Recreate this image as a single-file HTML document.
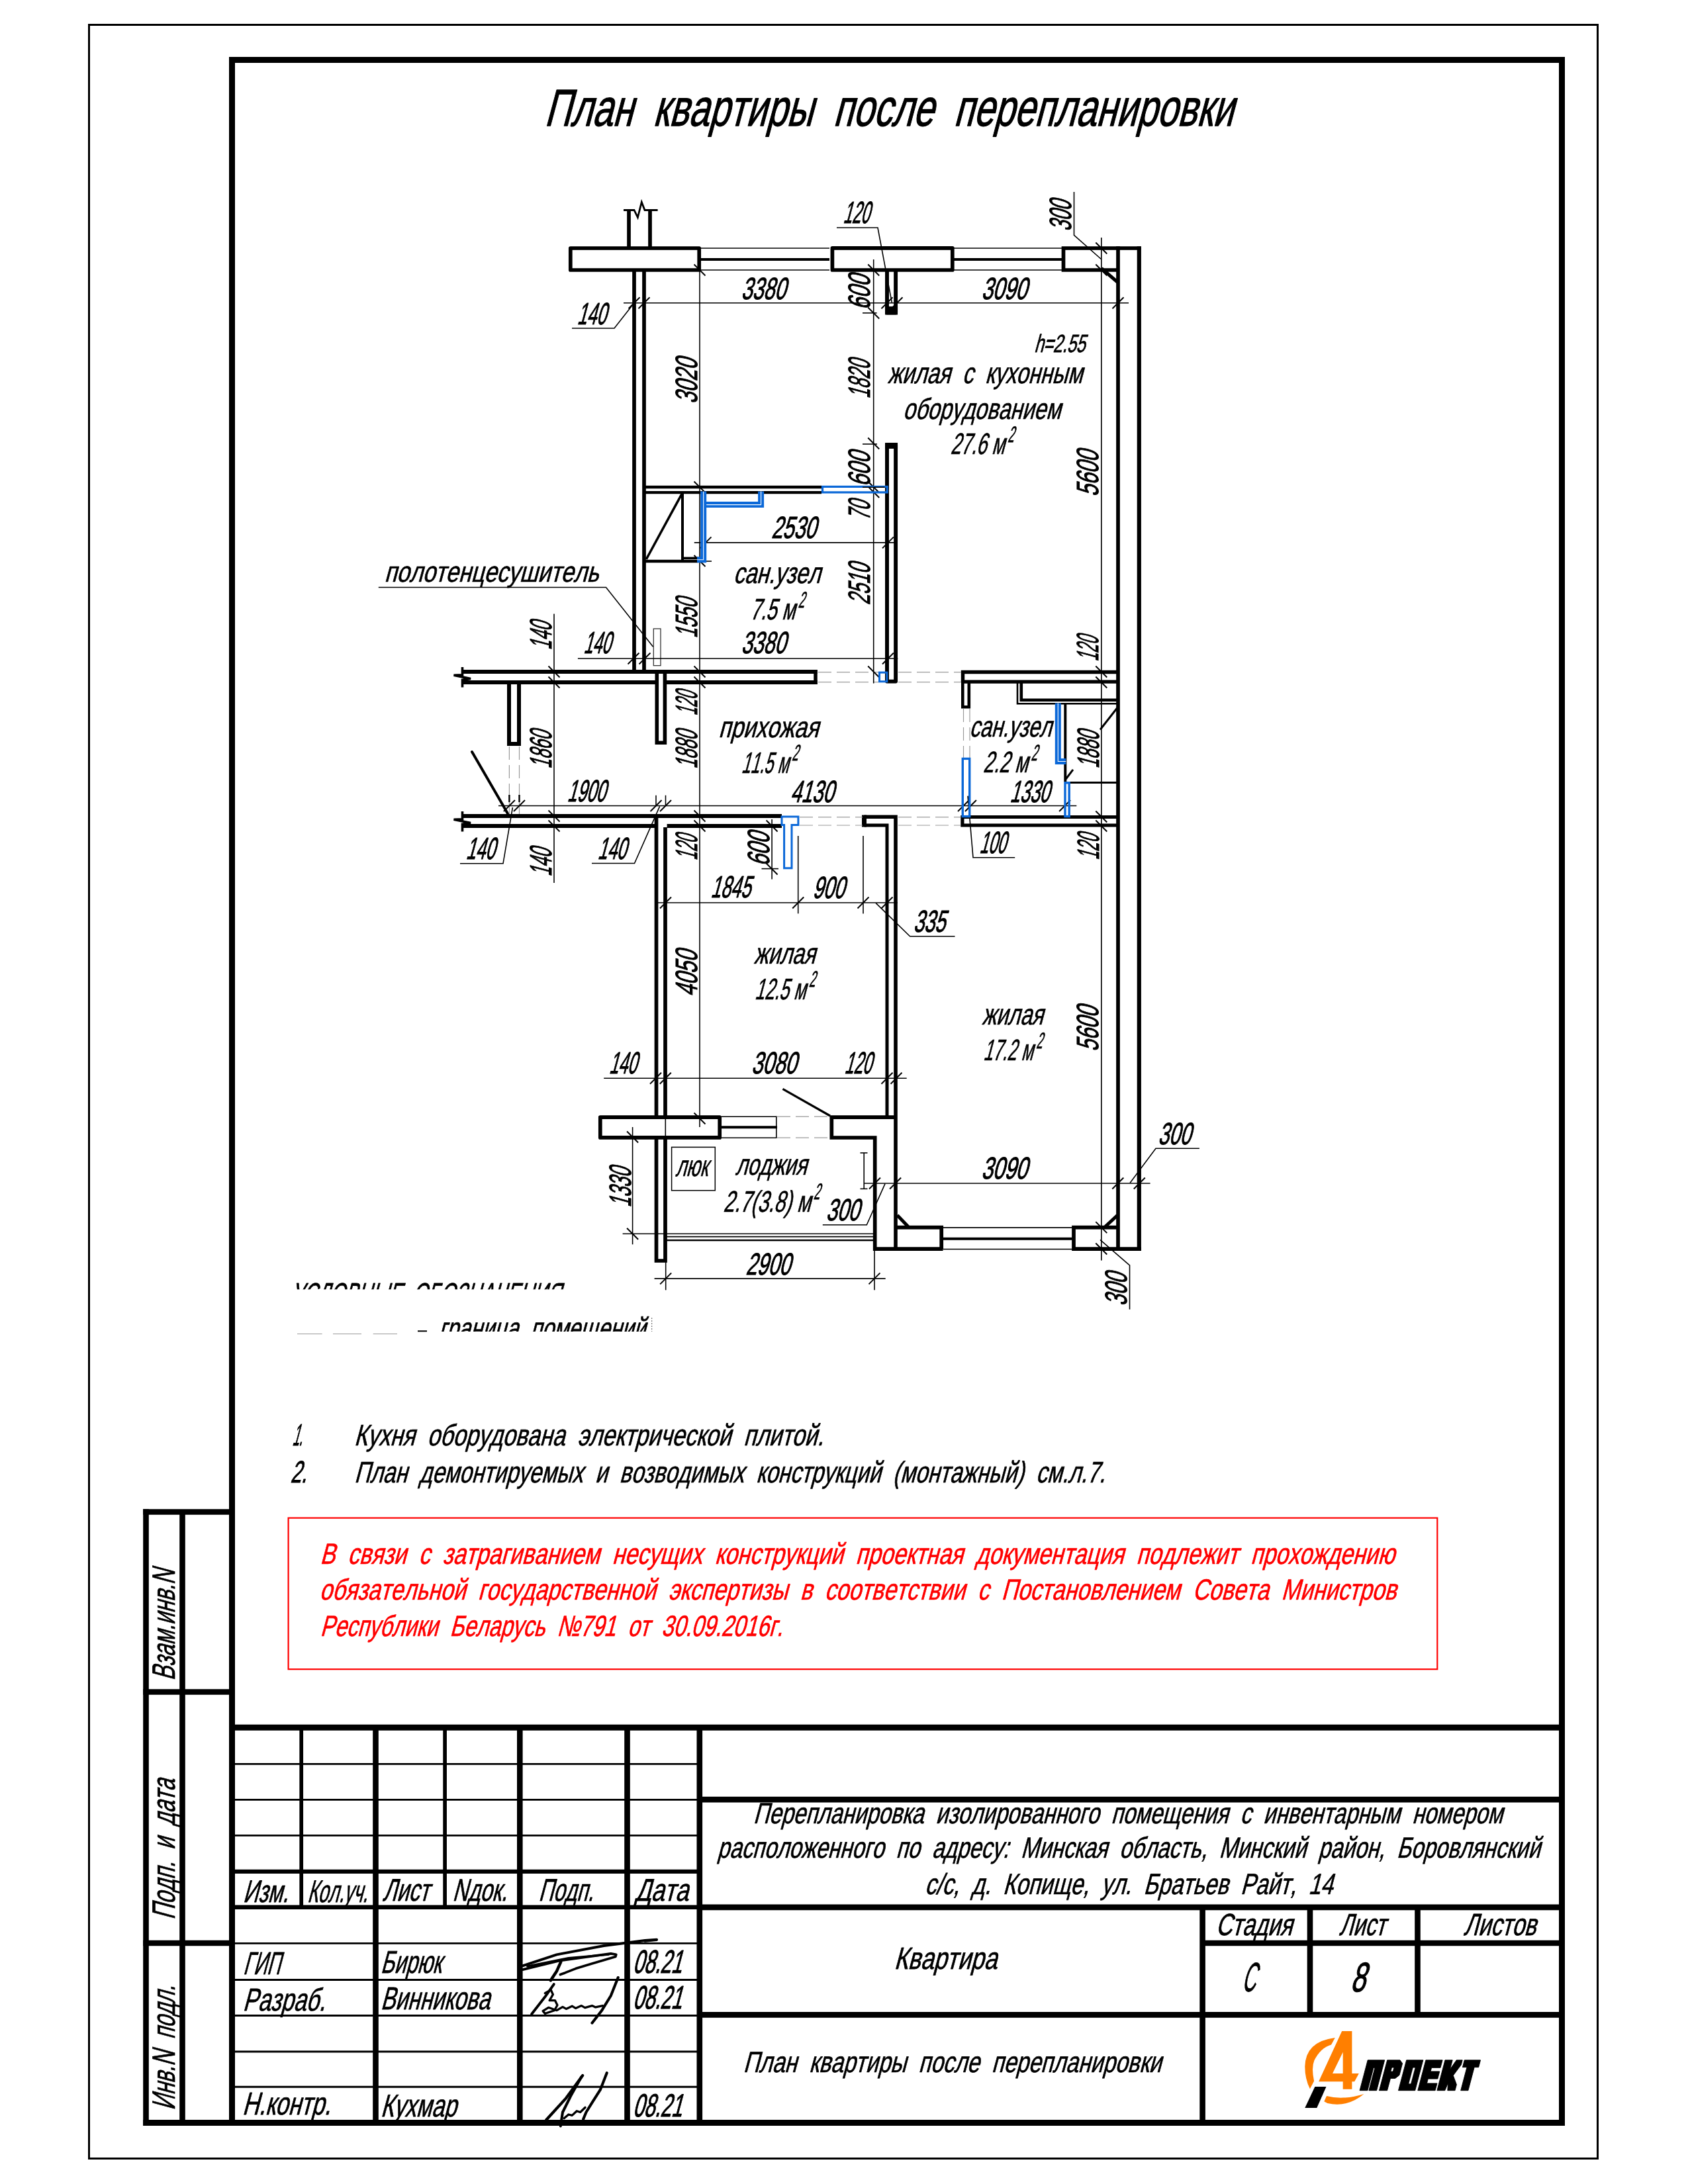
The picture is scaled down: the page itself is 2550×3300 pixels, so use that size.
<!DOCTYPE html>
<html lang="ru"><head><meta charset="utf-8"><title>План квартиры после перепланировки</title>
<style>
html,body{margin:0;padding:0;background:#fff;}
body{width:2550px;height:3300px;overflow:hidden;}
svg{display:block;}
svg text{font-family:"Liberation Sans",sans-serif;font-style:normal;font-kerning:none;font-variant-ligatures:none;}
</style></head><body>
<svg width="2550" height="3300" viewBox="0 0 2550 3300" shape-rendering="geometricPrecision">
<defs><filter id="nf" filterUnits="userSpaceOnUse" x="0" y="0" width="2550" height="3300" color-interpolation-filters="sRGB"><feOffset dx="0" dy="0"/></filter></defs>
<rect x="0" y="0" width="2550" height="3300" fill="#fff"/>
<g filter="url(#nf)">
<g id="frame">
<rect x="134.5" y="37.5" width="2279" height="3224" fill="none" stroke="#000" stroke-width="3"/>
<rect x="350.5" y="90.5" width="2009" height="3117" fill="none" stroke="#000" stroke-width="9"/>
<line x1="216.2" y1="2284.5" x2="350" y2="2284.5" stroke="#000" stroke-width="8.6" stroke-linecap="butt"/>
<line x1="220.5" y1="2280.2" x2="220.5" y2="3211.8" stroke="#000" stroke-width="8.6" stroke-linecap="butt"/>
<line x1="275.5" y1="2284" x2="275.5" y2="3207" stroke="#000" stroke-width="8.6" stroke-linecap="butt"/>
<line x1="216.2" y1="2556.5" x2="350" y2="2556.5" stroke="#000" stroke-width="8.6" stroke-linecap="butt"/>
<line x1="216.2" y1="2936" x2="350" y2="2936" stroke="#000" stroke-width="8.6" stroke-linecap="butt"/>
<line x1="216.2" y1="3207.5" x2="350" y2="3207.5" stroke="#000" stroke-width="9" stroke-linecap="butt"/>
</g>
<g id="plan" stroke-linejoin="miter">
<g stroke-linejoin="round">
<rect x="861.8" y="375" width="194.4" height="33" fill="none" stroke="#000" stroke-width="5.7"/>
</g>
<line x1="950" y1="316" x2="950" y2="373" stroke="#000" stroke-width="5.7" stroke-linecap="butt"/>
<line x1="982" y1="316" x2="982" y2="373" stroke="#000" stroke-width="5.7" stroke-linecap="butt"/>
<path d="M942 317.5 L958 317.5 L963.4 328.5 L969.3 305.4 L974 317.5 L993.6 317.5" fill="none" stroke="#000" stroke-width="2.8" stroke-linejoin="miter" stroke-linecap="butt"/>
<line x1="1059" y1="375" x2="1253" y2="375" stroke="#000" stroke-width="1.6" stroke-linecap="butt"/>
<line x1="1059" y1="408" x2="1253" y2="408" stroke="#000" stroke-width="1.6" stroke-linecap="butt"/>
<line x1="1059" y1="392" x2="1253" y2="392" stroke="#000" stroke-width="4" stroke-linecap="butt"/>
<g stroke-linejoin="round">
<rect x="1257.4" y="374.8" width="181.4" height="33.2" fill="none" stroke="#000" stroke-width="5.7"/>
</g>
<line x1="1441" y1="375" x2="1604" y2="375" stroke="#000" stroke-width="1.6" stroke-linecap="butt"/>
<line x1="1441" y1="408" x2="1604" y2="408" stroke="#000" stroke-width="1.6" stroke-linecap="butt"/>
<line x1="1441" y1="392" x2="1604" y2="392" stroke="#000" stroke-width="4" stroke-linecap="butt"/>
<path d="M1689 408 L1606.5 408 L1606.5 375 L1723.6 375" fill="none" stroke="#000" stroke-width="5.7" stroke-linejoin="miter" stroke-linecap="butt"/>
<line x1="1689" y1="372.2" x2="1689" y2="1890" stroke="#000" stroke-width="5.7" stroke-linecap="butt"/>
<line x1="1720.8" y1="372.2" x2="1720.8" y2="1890" stroke="#000" stroke-width="6.2" stroke-linecap="butt"/>
<line x1="1664" y1="405.5" x2="1689" y2="427" stroke="#000" stroke-width="5" stroke-linecap="butt"/>
<line x1="1688" y1="1836.3" x2="1669.5" y2="1853.5" stroke="#000" stroke-width="5" stroke-linecap="butt"/>
<line x1="958" y1="410" x2="958" y2="1013" stroke="#000" stroke-width="5.7" stroke-linecap="butt"/>
<line x1="973" y1="410" x2="973" y2="1013" stroke="#000" stroke-width="5.7" stroke-linecap="butt"/>
<path d="M1340 410 L1340 472.6 L1353.1 472.6 L1353.1 410" fill="none" stroke="#000" stroke-width="5.9" stroke-linejoin="round" stroke-linecap="butt"/>
<rect x="1340" y="466" width="13.1" height="6.6" fill="#000" stroke="#000" stroke-width="5.9"/>
<path d="M1340 1029.6 L1340 672 L1353.1 672 L1353.1 1029.6 L1340 1029.6 Z" fill="none" stroke="#000" stroke-width="5.9" stroke-linejoin="round" stroke-linecap="butt"/>
<rect x="1340" y="672" width="13.1" height="3" fill="#000" stroke="#000" stroke-width="5.9"/>
<line x1="975" y1="736" x2="1241" y2="736" stroke="#000" stroke-width="4.3" stroke-linecap="butt"/>
<line x1="975" y1="744.2" x2="1241" y2="744.2" stroke="#000" stroke-width="4.3" stroke-linecap="butt"/>
<line x1="976.3" y1="845" x2="1030" y2="746.3" stroke="#000" stroke-width="3.6" stroke-linecap="butt"/>
<line x1="1031" y1="746" x2="1031" y2="848" stroke="#000" stroke-width="4" stroke-linecap="butt"/>
<line x1="973" y1="848" x2="1055" y2="848" stroke="#000" stroke-width="4.3" stroke-linecap="butt"/>
<line x1="1031" y1="843.3" x2="1055" y2="843.3" stroke="#000" stroke-width="3.5" stroke-linecap="butt"/>
<line x1="698.5" y1="1015" x2="1234.7" y2="1015" stroke="#000" stroke-width="6" stroke-linecap="butt"/>
<line x1="698.5" y1="1031" x2="990" y2="1031" stroke="#000" stroke-width="6" stroke-linecap="butt"/>
<line x1="1006.8" y1="1031" x2="1234.7" y2="1031" stroke="#000" stroke-width="6" stroke-linecap="butt"/>
<line x1="1232" y1="1012" x2="1232" y2="1034" stroke="#000" stroke-width="5.5" stroke-linecap="butt"/>
<path d="M698.5 1008 L698.5 1019.8 L685.5 1020.2 L711 1025.5 L698.5 1027.2 L698.5 1038.5" fill="none" stroke="#000" stroke-width="3.6" stroke-linejoin="miter" stroke-linecap="butt"/>
<path d="M769 1031 L769 1124 L784 1124 L784 1031" fill="none" stroke="#000" stroke-width="6" stroke-linejoin="miter" stroke-linecap="butt"/>
<path d="M992.3 1015 L992.3 1122.3 L1004.4 1122.3 L1004.4 1015" fill="none" stroke="#000" stroke-width="5.6" stroke-linejoin="miter" stroke-linecap="butt"/>
<line x1="698.5" y1="1233" x2="1181" y2="1233" stroke="#000" stroke-width="6" stroke-linecap="butt"/>
<line x1="698.5" y1="1248" x2="990" y2="1248" stroke="#000" stroke-width="6" stroke-linecap="butt"/>
<line x1="1007.6" y1="1248" x2="1181" y2="1248" stroke="#000" stroke-width="6" stroke-linecap="butt"/>
<path d="M698.5 1226 L698.5 1237.8 L685.5 1238.2 L711 1243.5 L698.5 1245.2 L698.5 1256.5" fill="none" stroke="#000" stroke-width="3.6" stroke-linejoin="miter" stroke-linecap="butt"/>
<line x1="713" y1="1136" x2="768" y2="1231" stroke="#000" stroke-width="4" stroke-linecap="round"/>
<line x1="991.5" y1="1233" x2="991.5" y2="1686" stroke="#000" stroke-width="5.7" stroke-linecap="butt"/>
<line x1="1005" y1="1250" x2="1005" y2="1686" stroke="#000" stroke-width="5.7" stroke-linecap="butt"/>
<line x1="1005.3" y1="1686" x2="1005.3" y2="1722" stroke="#000" stroke-width="1.6" stroke-linecap="butt"/>
<path d="M991.5 1721 L991.5 1905 L1005 1905 L1005 1721" fill="none" stroke="#000" stroke-width="5.7" stroke-linejoin="miter" stroke-linecap="butt"/>
<g stroke-linejoin="round">
<rect x="906.8" y="1688.2" width="180.4" height="30.7" fill="none" stroke="#000" stroke-width="5.7"/>
</g>
<line x1="1090" y1="1687.2" x2="1172.8" y2="1687.2" stroke="#000" stroke-width="1.6" stroke-linecap="butt"/>
<line x1="1090" y1="1719.2" x2="1172.8" y2="1719.2" stroke="#000" stroke-width="1.6" stroke-linecap="butt"/>
<line x1="1090" y1="1703.2" x2="1174" y2="1703.2" stroke="#000" stroke-width="4" stroke-linecap="butt"/>
<line x1="1172.8" y1="1686.5" x2="1172.8" y2="1720" stroke="#000" stroke-width="1.6" stroke-linecap="butt"/>
<path d="M1353 1688.2 L1256.3 1688.2 L1256.3 1719 L1321.7 1719 L1321.7 1887.2 L1424.5 1887.2" fill="none" stroke="#000" stroke-width="5.7" stroke-linejoin="miter" stroke-linecap="butt"/>
<line x1="1182.4" y1="1645.3" x2="1254" y2="1686" stroke="#000" stroke-width="3.2" stroke-linecap="butt"/>
<path d="M1305.5 1247 L1340 1247 L1340 1690.8" fill="none" stroke="#000" stroke-width="5" stroke-linejoin="miter" stroke-linecap="butt"/>
<path d="M1305.5 1234.3 L1353 1234.3 L1353 1887" fill="none" stroke="#000" stroke-width="5.6" stroke-linejoin="miter" stroke-linecap="butt"/>
<line x1="1305.5" y1="1231.5" x2="1305.5" y2="1249.5" stroke="#000" stroke-width="7" stroke-linecap="butt"/>
<path d="M1353 1854.6 L1422.2 1854.6 L1422.2 1887.2" fill="none" stroke="#000" stroke-width="5.7" stroke-linejoin="miter" stroke-linecap="butt"/>
<line x1="1355.5" y1="1836.3" x2="1372" y2="1853.6" stroke="#000" stroke-width="5" stroke-linecap="butt"/>
<line x1="1424.5" y1="1854.9" x2="1620.6" y2="1854.9" stroke="#000" stroke-width="1.6" stroke-linecap="butt"/>
<line x1="1424.5" y1="1887.5" x2="1620.6" y2="1887.5" stroke="#000" stroke-width="1.6" stroke-linecap="butt"/>
<line x1="1424.5" y1="1871.8" x2="1620.6" y2="1871.8" stroke="#000" stroke-width="4" stroke-linecap="butt"/>
<path d="M1689 1854.6 L1622 1854.6 L1622 1887.2 L1723.9 1887.2" fill="none" stroke="#000" stroke-width="5.7" stroke-linejoin="miter" stroke-linecap="butt"/>
<path d="M1689 1015.5 L1454.5 1015.5 L1454.5 1030.1" fill="none" stroke="#000" stroke-width="5.4" stroke-linejoin="miter" stroke-linecap="butt"/>
<line x1="1452" y1="1030.1" x2="1689" y2="1030.1" stroke="#000" stroke-width="5.4" stroke-linecap="butt"/>
<path d="M1454.3 1030 L1454.3 1068.2 L1463.8 1068.2 L1463.8 1030" fill="none" stroke="#000" stroke-width="4.6" stroke-linejoin="miter" stroke-linecap="butt"/>
<path d="M1537 1030 L1537 1063.2 L1689 1063.2" fill="none" stroke="#000" stroke-width="2.6" stroke-linejoin="miter" stroke-linecap="butt"/>
<path d="M1542.8 1030 L1542.8 1057.8 L1689 1057.8" fill="none" stroke="#000" stroke-width="4.6" stroke-linejoin="miter" stroke-linecap="butt"/>
<line x1="1609.3" y1="1063" x2="1609.3" y2="1181.5" stroke="#000" stroke-width="4" stroke-linecap="butt"/>
<line x1="1616" y1="1182.4" x2="1689" y2="1182.4" stroke="#000" stroke-width="3" stroke-linecap="butt"/>
<line x1="1610.3" y1="1177" x2="1621" y2="1162.8" stroke="#000" stroke-width="3" stroke-linecap="butt"/>
<line x1="1689" y1="1068" x2="1662" y2="1102.5" stroke="#000" stroke-width="3" stroke-linecap="butt"/>
<path d="M1689 1234.5 L1453.9 1234.5 L1453.9 1247 L1689 1247" fill="none" stroke="#000" stroke-width="5.2" stroke-linejoin="miter" stroke-linecap="butt"/>
<line x1="1005" y1="1864.3" x2="1322" y2="1864.3" stroke="#000" stroke-width="1.6" stroke-linecap="butt"/>
<line x1="1005" y1="1868.6" x2="1322" y2="1868.6" stroke="#000" stroke-width="1.6" stroke-linecap="butt"/>
<line x1="1005" y1="1874" x2="1322" y2="1874" stroke="#000" stroke-width="2.4" stroke-linecap="butt"/>
<rect x="987.3" y="950" width="10.7" height="55.7" fill="none" stroke="#333" stroke-width="1.3"/>
<rect x="1014.6" y="1733.4" width="65.7" height="65.4" fill="none" stroke="#000" stroke-width="1.5"/>
<line x1="1305.2" y1="1742" x2="1305.2" y2="1796.3" stroke="#000" stroke-width="1.6" stroke-linecap="butt"/>
<line x1="1299.5" y1="1742" x2="1310.5" y2="1742" stroke="#000" stroke-width="1.6" stroke-linecap="butt"/>
<line x1="1299.5" y1="1796.3" x2="1310.5" y2="1796.3" stroke="#000" stroke-width="1.6" stroke-linecap="butt"/>
<line x1="1236" y1="1015.6" x2="1327" y2="1015.6" stroke="#9a9a9a" stroke-width="1.2" stroke-linecap="butt" stroke-dasharray="20 8"/>
<line x1="1236" y1="1030.6" x2="1327" y2="1030.6" stroke="#9a9a9a" stroke-width="1.2" stroke-linecap="butt" stroke-dasharray="20 8"/>
<line x1="1357" y1="1015.6" x2="1452" y2="1015.6" stroke="#9a9a9a" stroke-width="1.2" stroke-linecap="butt" stroke-dasharray="20 8"/>
<line x1="1357" y1="1030.6" x2="1452" y2="1030.6" stroke="#9a9a9a" stroke-width="1.2" stroke-linecap="butt" stroke-dasharray="20 8"/>
<line x1="1208" y1="1234.6" x2="1303" y2="1234.6" stroke="#9a9a9a" stroke-width="1.2" stroke-linecap="butt" stroke-dasharray="20 8"/>
<line x1="1208" y1="1247" x2="1303" y2="1247" stroke="#9a9a9a" stroke-width="1.2" stroke-linecap="butt" stroke-dasharray="20 8"/>
<line x1="1357" y1="1234.6" x2="1451" y2="1234.6" stroke="#9a9a9a" stroke-width="1.2" stroke-linecap="butt" stroke-dasharray="20 8"/>
<line x1="1357" y1="1247" x2="1451" y2="1247" stroke="#9a9a9a" stroke-width="1.2" stroke-linecap="butt" stroke-dasharray="20 8"/>
<line x1="1455.5" y1="1071" x2="1455.5" y2="1145" stroke="#9a9a9a" stroke-width="1.2" stroke-linecap="butt" stroke-dasharray="20 8"/>
<line x1="1465" y1="1071" x2="1465" y2="1145" stroke="#9a9a9a" stroke-width="1.2" stroke-linecap="butt" stroke-dasharray="20 8"/>
<line x1="769.4" y1="1128" x2="769.4" y2="1230" stroke="#9a9a9a" stroke-width="1.2" stroke-linecap="butt" stroke-dasharray="20 8"/>
<line x1="784.5" y1="1128" x2="784.5" y2="1230" stroke="#9a9a9a" stroke-width="1.2" stroke-linecap="butt" stroke-dasharray="20 8"/>
<line x1="1174" y1="1687.2" x2="1254" y2="1687.2" stroke="#9a9a9a" stroke-width="1.2" stroke-linecap="butt" stroke-dasharray="20 8"/>
<line x1="1174" y1="1719.2" x2="1254" y2="1719.2" stroke="#9a9a9a" stroke-width="1.2" stroke-linecap="butt" stroke-dasharray="20 8"/>
</g>
<g id="dims">
<line x1="942" y1="457.8" x2="1705" y2="457.8" stroke="#000" stroke-width="1.6" stroke-linecap="butt"/>
<line x1="1048.8" y1="819.9" x2="1356" y2="819.9" stroke="#000" stroke-width="1.6" stroke-linecap="butt"/>
<line x1="872.9" y1="995" x2="1356.3" y2="995" stroke="#000" stroke-width="1.6" stroke-linecap="butt"/>
<line x1="753" y1="1217.5" x2="1626.3" y2="1217.5" stroke="#000" stroke-width="1.6" stroke-linecap="butt"/>
<line x1="993" y1="1364" x2="1356" y2="1364" stroke="#000" stroke-width="1.6" stroke-linecap="butt"/>
<line x1="912.2" y1="1629.3" x2="1369.7" y2="1629.3" stroke="#000" stroke-width="1.6" stroke-linecap="butt"/>
<line x1="1306" y1="1788" x2="1737.6" y2="1788" stroke="#000" stroke-width="1.6" stroke-linecap="butt"/>
<line x1="988.6" y1="1931.9" x2="1337.7" y2="1931.9" stroke="#000" stroke-width="1.6" stroke-linecap="butt"/>
<line x1="940.6" y1="1864.3" x2="1005" y2="1864.3" stroke="#000" stroke-width="1.6" stroke-linecap="butt"/>
<line x1="1067" y1="848" x2="1075" y2="848" stroke="#000" stroke-width="1.6" stroke-linecap="butt"/>
<line x1="1150.5" y1="1312.6" x2="1176" y2="1312.6" stroke="#000" stroke-width="1.6" stroke-linecap="butt"/>
<line x1="1303" y1="472.9" x2="1324.6" y2="472.9" stroke="#000" stroke-width="1.6" stroke-linecap="butt"/>
<line x1="1303" y1="671" x2="1325" y2="671" stroke="#000" stroke-width="1.6" stroke-linecap="butt"/>
<line x1="1057" y1="400" x2="1057" y2="1703" stroke="#000" stroke-width="1.6" stroke-linecap="butt"/>
<line x1="1319.7" y1="392" x2="1319.7" y2="1032.4" stroke="#000" stroke-width="1.6" stroke-linecap="butt"/>
<line x1="1663.8" y1="359" x2="1663.8" y2="1904.5" stroke="#000" stroke-width="1.6" stroke-linecap="butt"/>
<line x1="837" y1="927.5" x2="837" y2="1334" stroke="#000" stroke-width="1.6" stroke-linecap="butt"/>
<line x1="1166.1" y1="1238" x2="1166.1" y2="1328.6" stroke="#000" stroke-width="1.6" stroke-linecap="butt"/>
<line x1="1205.7" y1="1263" x2="1205.7" y2="1380.4" stroke="#000" stroke-width="1.6" stroke-linecap="butt"/>
<line x1="1304" y1="1263" x2="1304" y2="1380.4" stroke="#000" stroke-width="1.6" stroke-linecap="butt"/>
<line x1="955.6" y1="1703" x2="955.6" y2="1880.3" stroke="#000" stroke-width="1.6" stroke-linecap="butt"/>
<line x1="1005.7" y1="1907" x2="1005.7" y2="1949.3" stroke="#000" stroke-width="1.6" stroke-linecap="butt"/>
<line x1="1321" y1="1890" x2="1321" y2="1949.3" stroke="#000" stroke-width="1.6" stroke-linecap="butt"/>
<line x1="991" y1="1201.7" x2="991" y2="1217.5" stroke="#000" stroke-width="1.6" stroke-linecap="butt"/>
<line x1="1005.5" y1="1201.7" x2="1005.5" y2="1217.5" stroke="#000" stroke-width="1.6" stroke-linecap="butt"/>
<line x1="769.4" y1="1201" x2="769.4" y2="1212" stroke="#000" stroke-width="2.4" stroke-linecap="butt"/>
<line x1="784.5" y1="1201" x2="784.5" y2="1212" stroke="#000" stroke-width="2.4" stroke-linecap="butt"/>
<line x1="949.5" y1="466.3" x2="966.5" y2="449.3" stroke="#000" stroke-width="2.0" stroke-linecap="butt"/>
<line x1="964.5" y1="466.3" x2="981.5" y2="449.3" stroke="#000" stroke-width="2.0" stroke-linecap="butt"/>
<line x1="1331.5" y1="466.3" x2="1348.5" y2="449.3" stroke="#000" stroke-width="2.0" stroke-linecap="butt"/>
<line x1="1346.5" y1="466.3" x2="1363.5" y2="449.3" stroke="#000" stroke-width="2.0" stroke-linecap="butt"/>
<line x1="1680.5" y1="466.3" x2="1697.5" y2="449.3" stroke="#000" stroke-width="2.0" stroke-linecap="butt"/>
<line x1="1057.5" y1="828.4" x2="1074.5" y2="811.4" stroke="#000" stroke-width="2.0" stroke-linecap="butt"/>
<line x1="1333" y1="828.4" x2="1350" y2="811.4" stroke="#000" stroke-width="2.0" stroke-linecap="butt"/>
<line x1="948.5" y1="1003.5" x2="965.5" y2="986.5" stroke="#000" stroke-width="2.0" stroke-linecap="butt"/>
<line x1="965.5" y1="1003.5" x2="982.5" y2="986.5" stroke="#000" stroke-width="2.0" stroke-linecap="butt"/>
<line x1="1333" y1="1003.5" x2="1350" y2="986.5" stroke="#000" stroke-width="2.0" stroke-linecap="butt"/>
<line x1="760.9" y1="1226" x2="777.9" y2="1209" stroke="#000" stroke-width="2.0" stroke-linecap="butt"/>
<line x1="776" y1="1226" x2="793" y2="1209" stroke="#000" stroke-width="2.0" stroke-linecap="butt"/>
<line x1="982.5" y1="1226" x2="999.5" y2="1209" stroke="#000" stroke-width="2.0" stroke-linecap="butt"/>
<line x1="997" y1="1226" x2="1014" y2="1209" stroke="#000" stroke-width="2.0" stroke-linecap="butt"/>
<line x1="1447" y1="1226" x2="1464" y2="1209" stroke="#000" stroke-width="2.0" stroke-linecap="butt"/>
<line x1="1457.9" y1="1226" x2="1474.9" y2="1209" stroke="#000" stroke-width="2.0" stroke-linecap="butt"/>
<line x1="1600.1" y1="1226" x2="1617.1" y2="1209" stroke="#000" stroke-width="2.0" stroke-linecap="butt"/>
<line x1="997" y1="1372.5" x2="1014" y2="1355.5" stroke="#000" stroke-width="2.0" stroke-linecap="butt"/>
<line x1="1197.2" y1="1372.5" x2="1214.2" y2="1355.5" stroke="#000" stroke-width="2.0" stroke-linecap="butt"/>
<line x1="1295.5" y1="1372.5" x2="1312.5" y2="1355.5" stroke="#000" stroke-width="2.0" stroke-linecap="butt"/>
<line x1="1331.5" y1="1372.5" x2="1348.5" y2="1355.5" stroke="#000" stroke-width="2.0" stroke-linecap="butt"/>
<line x1="982" y1="1637.8" x2="999" y2="1620.8" stroke="#000" stroke-width="2.0" stroke-linecap="butt"/>
<line x1="996.8" y1="1637.8" x2="1013.8" y2="1620.8" stroke="#000" stroke-width="2.0" stroke-linecap="butt"/>
<line x1="1331.5" y1="1637.8" x2="1348.5" y2="1620.8" stroke="#000" stroke-width="2.0" stroke-linecap="butt"/>
<line x1="1345.5" y1="1637.8" x2="1362.5" y2="1620.8" stroke="#000" stroke-width="2.0" stroke-linecap="butt"/>
<line x1="1313" y1="1796.5" x2="1330" y2="1779.5" stroke="#000" stroke-width="2.0" stroke-linecap="butt"/>
<line x1="1344.1" y1="1796.5" x2="1361.1" y2="1779.5" stroke="#000" stroke-width="2.0" stroke-linecap="butt"/>
<line x1="1680.3" y1="1796.5" x2="1697.3" y2="1779.5" stroke="#000" stroke-width="2.0" stroke-linecap="butt"/>
<line x1="1712.8" y1="1796.5" x2="1729.8" y2="1779.5" stroke="#000" stroke-width="2.0" stroke-linecap="butt"/>
<line x1="997.2" y1="1940.4" x2="1014.2" y2="1923.4" stroke="#000" stroke-width="2.0" stroke-linecap="butt"/>
<line x1="1312.5" y1="1940.4" x2="1329.5" y2="1923.4" stroke="#000" stroke-width="2.0" stroke-linecap="butt"/>
<line x1="1048.5" y1="399.5" x2="1065.5" y2="416.5" stroke="#000" stroke-width="2.0" stroke-linecap="butt"/>
<line x1="1048.5" y1="727.5" x2="1065.5" y2="744.5" stroke="#000" stroke-width="2.0" stroke-linecap="butt"/>
<line x1="1048.5" y1="839" x2="1065.5" y2="856" stroke="#000" stroke-width="2.0" stroke-linecap="butt"/>
<line x1="1048.5" y1="1006.5" x2="1065.5" y2="1023.5" stroke="#000" stroke-width="2.0" stroke-linecap="butt"/>
<line x1="1048.5" y1="1022.5" x2="1065.5" y2="1039.5" stroke="#000" stroke-width="2.0" stroke-linecap="butt"/>
<line x1="1048.5" y1="1224.5" x2="1065.5" y2="1241.5" stroke="#000" stroke-width="2.0" stroke-linecap="butt"/>
<line x1="1048.5" y1="1239.5" x2="1065.5" y2="1256.5" stroke="#000" stroke-width="2.0" stroke-linecap="butt"/>
<line x1="1048.5" y1="1681.5" x2="1065.5" y2="1698.5" stroke="#000" stroke-width="2.0" stroke-linecap="butt"/>
<line x1="1311.2" y1="399.5" x2="1328.2" y2="416.5" stroke="#000" stroke-width="2.0" stroke-linecap="butt"/>
<line x1="1311.2" y1="464.5" x2="1328.2" y2="481.5" stroke="#000" stroke-width="2.0" stroke-linecap="butt"/>
<line x1="1311.2" y1="661.5" x2="1328.2" y2="678.5" stroke="#000" stroke-width="2.0" stroke-linecap="butt"/>
<line x1="1311.2" y1="727.5" x2="1328.2" y2="744.5" stroke="#000" stroke-width="2.0" stroke-linecap="butt"/>
<line x1="1311.2" y1="735" x2="1328.2" y2="752" stroke="#000" stroke-width="2.0" stroke-linecap="butt"/>
<line x1="1311.2" y1="1006.5" x2="1328.2" y2="1023.5" stroke="#000" stroke-width="2.0" stroke-linecap="butt"/>
<line x1="1655.3" y1="366.5" x2="1672.3" y2="383.5" stroke="#000" stroke-width="2.0" stroke-linecap="butt"/>
<line x1="1655.3" y1="399.5" x2="1672.3" y2="416.5" stroke="#000" stroke-width="2.0" stroke-linecap="butt"/>
<line x1="1655.3" y1="1006.5" x2="1672.3" y2="1023.5" stroke="#000" stroke-width="2.0" stroke-linecap="butt"/>
<line x1="1655.3" y1="1022.5" x2="1672.3" y2="1039.5" stroke="#000" stroke-width="2.0" stroke-linecap="butt"/>
<line x1="1655.3" y1="1225.5" x2="1672.3" y2="1242.5" stroke="#000" stroke-width="2.0" stroke-linecap="butt"/>
<line x1="1655.3" y1="1239.5" x2="1672.3" y2="1256.5" stroke="#000" stroke-width="2.0" stroke-linecap="butt"/>
<line x1="1655.3" y1="1846.1" x2="1672.3" y2="1863.1" stroke="#000" stroke-width="2.0" stroke-linecap="butt"/>
<line x1="1655.3" y1="1878.5" x2="1672.3" y2="1895.5" stroke="#000" stroke-width="2.0" stroke-linecap="butt"/>
<line x1="828.5" y1="1006.5" x2="845.5" y2="1023.5" stroke="#000" stroke-width="2.0" stroke-linecap="butt"/>
<line x1="828.5" y1="1022.5" x2="845.5" y2="1039.5" stroke="#000" stroke-width="2.0" stroke-linecap="butt"/>
<line x1="828.5" y1="1224.5" x2="845.5" y2="1241.5" stroke="#000" stroke-width="2.0" stroke-linecap="butt"/>
<line x1="828.5" y1="1239.5" x2="845.5" y2="1256.5" stroke="#000" stroke-width="2.0" stroke-linecap="butt"/>
<line x1="1157.6" y1="1239.5" x2="1174.6" y2="1256.5" stroke="#000" stroke-width="2.0" stroke-linecap="butt"/>
<line x1="1157.6" y1="1304.5" x2="1174.6" y2="1321.5" stroke="#000" stroke-width="2.0" stroke-linecap="butt"/>
<line x1="947.1" y1="1709.5" x2="964.1" y2="1726.5" stroke="#000" stroke-width="2.0" stroke-linecap="butt"/>
<line x1="947.1" y1="1855.8" x2="964.1" y2="1872.8" stroke="#000" stroke-width="2.0" stroke-linecap="butt"/>
<path d="M864 496 L928 496 L958 457.8" fill="none" stroke="#000" stroke-width="1.6" stroke-linejoin="miter" stroke-linecap="butt"/>
<path d="M1264 344 L1326 344 L1347.4 457.7" fill="none" stroke="#000" stroke-width="1.6" stroke-linejoin="miter" stroke-linecap="butt"/>
<path d="M1622.5 290 L1622.5 355.4 L1664 392" fill="none" stroke="#000" stroke-width="1.6" stroke-linejoin="miter" stroke-linecap="butt"/>
<path d="M571.8 887.5 L915.5 887.5 L986.6 977.3" fill="none" stroke="#000" stroke-width="1.6" stroke-linejoin="miter" stroke-linecap="butt"/>
<path d="M695 1304.8 L760 1304.8 L774.4 1220" fill="none" stroke="#000" stroke-width="1.6" stroke-linejoin="miter" stroke-linecap="butt"/>
<path d="M894 1304.5 L958.5 1304.5 L996.6 1218.4" fill="none" stroke="#000" stroke-width="1.6" stroke-linejoin="miter" stroke-linecap="butt"/>
<path d="M1533.2 1295.8 L1470 1295.8 L1462 1202.6" fill="none" stroke="#000" stroke-width="1.6" stroke-linejoin="miter" stroke-linecap="butt"/>
<path d="M1442.5 1414.8 L1374.6 1414.8 L1323 1364.4" fill="none" stroke="#000" stroke-width="1.6" stroke-linejoin="miter" stroke-linecap="butt"/>
<path d="M1811.9 1735.2 L1746 1735.2 L1707 1787.5" fill="none" stroke="#000" stroke-width="1.6" stroke-linejoin="miter" stroke-linecap="butt"/>
<path d="M1242.8 1850.8 L1309.3 1850.8 L1337 1788.6" fill="none" stroke="#000" stroke-width="1.6" stroke-linejoin="miter" stroke-linecap="butt"/>
<path d="M1706.5 1978.4 L1706.5 1911.8 L1662 1873.3" fill="none" stroke="#000" stroke-width="1.6" stroke-linejoin="miter" stroke-linecap="butt"/>
</g>
<g id="blue">
<rect x="1242.5" y="735.4" width="97.7" height="8.5" fill="none" stroke="#0b68d8" stroke-width="3.2"/>
<path d="M1149.6 742.4 L1149.6 762.6 L1062.7 762.6" fill="none" stroke="#0b68d8" stroke-width="9" stroke-linejoin="miter" stroke-linecap="butt"/>
<path d="M1149.6 742.4 L1149.6 762.6 L1062.7 762.6" fill="none" stroke="#fff" stroke-width="1.1" stroke-linejoin="miter" stroke-linecap="butt"/>
<path d="M1062.7 742.4 L1062.7 845.8 L1053 845.8" fill="none" stroke="#0b68d8" stroke-width="9" stroke-linejoin="miter" stroke-linecap="butt"/>
<path d="M1062.7 742.4 L1062.7 845.8 L1053 845.8" fill="none" stroke="#fff" stroke-width="1.1" stroke-linejoin="miter" stroke-linecap="butt"/>
<rect x="1328.5" y="1016.1" width="11.3" height="13.7" fill="none" stroke="#0b68d8" stroke-width="3"/>
<path d="M1181 1234.1 L1205.9 1234.1 L1205.9 1246.4 L1196 1246.4 L1196 1311.8 L1184.6 1311.8 L1184.6 1246.4 L1181 1246.4 Z" fill="none" stroke="#0b68d8" stroke-width="3" stroke-linejoin="miter" stroke-linecap="butt"/>
<rect x="1454.3" y="1146.4" width="10.4" height="87.2" fill="none" stroke="#0b68d8" stroke-width="3.4"/>
<path d="M1598.3 1062.4 L1598.3 1150.5 L1610.3 1150.5" fill="none" stroke="#0b68d8" stroke-width="9" stroke-linejoin="miter" stroke-linecap="butt"/>
<path d="M1598.3 1062.4 L1598.3 1150.5 L1610.3 1150.5" fill="none" stroke="#fff" stroke-width="1.1" stroke-linejoin="miter" stroke-linecap="butt"/>
<rect x="1609" y="1182.8" width="6.2" height="50.8" fill="none" stroke="#0b68d8" stroke-width="3.4"/>
</g>
<line x1="1303" y1="736.2" x2="1336.5" y2="736.2" stroke="#000" stroke-width="1.6" stroke-linecap="butt"/>
<g id="txt">
<text transform="translate(826 189.8) translate(-3.89 0) skewX(-15) scale(0.7041 1)" font-size="78.49" fill="#000" stroke="#000" stroke-width="1.3" stroke-linejoin="round">План  квартиры  после  перепланировки</text>
<text transform="translate(1121.7 451.7) translate(-2.43 0) skewX(-15) scale(0.6494 1)" font-size="46.51" fill="#000" stroke="#000" stroke-width="1.1" stroke-linejoin="round">3380</text>
<text transform="translate(1484.6 451.7) translate(-2.47 0) skewX(-15) scale(0.6647 1)" font-size="46.51" fill="#000" stroke="#000" stroke-width="1.1" stroke-linejoin="round">3090</text>
<text transform="translate(1274.5 336.9) translate(-1.28 0) skewX(-15) scale(0.5134 1)" font-size="46.51" fill="#000" stroke="#000" stroke-width="1.1" stroke-linejoin="round">120</text>
<text transform="translate(873 490.4) translate(-1.45 0) skewX(-15) scale(0.5633 1)" font-size="46.51" fill="#000" stroke="#000" stroke-width="1.1" stroke-linejoin="round">140</text>
<text transform="translate(1166 813) translate(-1.00 0) skewX(-15) scale(0.6521 1)" font-size="46.51" fill="#000" stroke="#000" stroke-width="1.1" stroke-linejoin="round">2530</text>
<text transform="translate(1121.7 987.2) translate(-2.43 0) skewX(-15) scale(0.6494 1)" font-size="46.51" fill="#000" stroke="#000" stroke-width="1.1" stroke-linejoin="round">3380</text>
<text transform="translate(882.5 987) translate(-1.33 0) skewX(-15) scale(0.5277 1)" font-size="46.51" fill="#000" stroke="#000" stroke-width="1.1" stroke-linejoin="round">140</text>
<text transform="translate(858 1211.3) translate(-1.44 0) skewX(-15) scale(0.5584 1)" font-size="46.51" fill="#000" stroke="#000" stroke-width="1.1" stroke-linejoin="round">1900</text>
<text transform="translate(1196 1211.5) translate(-2.15 0) skewX(-15) scale(0.6287 1)" font-size="46.51" fill="#000" stroke="#000" stroke-width="1.1" stroke-linejoin="round">4130</text>
<text transform="translate(1526.8 1211.5) translate(-1.50 0) skewX(-15) scale(0.5771 1)" font-size="46.51" fill="#000" stroke="#000" stroke-width="1.1" stroke-linejoin="round">1330</text>
<text transform="translate(705 1297.6) translate(-1.45 0) skewX(-15) scale(0.5633 1)" font-size="46.51" fill="#000" stroke="#000" stroke-width="1.1" stroke-linejoin="round">140</text>
<text transform="translate(904 1297.6) translate(-1.42 0) skewX(-15) scale(0.5547 1)" font-size="46.51" fill="#000" stroke="#000" stroke-width="1.1" stroke-linejoin="round">140</text>
<text transform="translate(1480.6 1288.6) translate(-1.27 0) skewX(-15) scale(0.5120 1)" font-size="46.51" fill="#000" stroke="#000" stroke-width="1.1" stroke-linejoin="round">100</text>
<text transform="translate(1074.8 1356.3) translate(-1.52 0) skewX(-15) scale(0.5818 1)" font-size="46.51" fill="#000" stroke="#000" stroke-width="1.1" stroke-linejoin="round">1845</text>
<text transform="translate(1230 1356.5) translate(-2.73 0) skewX(-15) scale(0.6186 1)" font-size="46.51" fill="#000" stroke="#000" stroke-width="1.1" stroke-linejoin="round">900</text>
<text transform="translate(1381.8 1408) translate(-2.37 0) skewX(-15) scale(0.6211 1)" font-size="46.51" fill="#000" stroke="#000" stroke-width="1.1" stroke-linejoin="round">335</text>
<text transform="translate(921 1622.2) translate(-1.37 0) skewX(-15) scale(0.5391 1)" font-size="46.51" fill="#000" stroke="#000" stroke-width="1.1" stroke-linejoin="round">140</text>
<text transform="translate(1137.2 1622.2) translate(-2.45 0) skewX(-15) scale(0.6575 1)" font-size="46.51" fill="#000" stroke="#000" stroke-width="1.1" stroke-linejoin="round">3080</text>
<text transform="translate(1276.6 1622.2) translate(-1.32 0) skewX(-15) scale(0.5262 1)" font-size="46.51" fill="#000" stroke="#000" stroke-width="1.1" stroke-linejoin="round">120</text>
<text transform="translate(1250 1844.3) translate(-2.42 0) skewX(-15) scale(0.6468 1)" font-size="46.51" fill="#000" stroke="#000" stroke-width="1.1" stroke-linejoin="round">300</text>
<text transform="translate(1484.4 1780.9) translate(-2.49 0) skewX(-15) scale(0.6728 1)" font-size="46.51" fill="#000" stroke="#000" stroke-width="1.1" stroke-linejoin="round">3090</text>
<text transform="translate(1751.4 1728.8) translate(-2.41 0) skewX(-15) scale(0.6385 1)" font-size="46.51" fill="#000" stroke="#000" stroke-width="1.1" stroke-linejoin="round">300</text>
<text transform="translate(1127.3 1925.5) translate(-1.00 0) skewX(-15) scale(0.6490 1)" font-size="46.51" fill="#000" stroke="#000" stroke-width="1.1" stroke-linejoin="round">2900</text>
<text transform="translate(1563.5 532.4) translate(-1.33 0) skewX(-15) scale(0.6602 1)" font-size="37.79" fill="#000" stroke="#000" stroke-width="0.9" stroke-linejoin="round">h=2.55</text>
<text transform="translate(1340.6 578.6) translate(0.14 0) skewX(-15) scale(0.7351 1)" font-size="44.33" fill="#000" stroke="#000" stroke-width="0.7" stroke-linejoin="round">жилая  с  кухонным</text>
<text transform="translate(1367.3 632.6) translate(-3.18 0) skewX(-15) scale(0.7329 1)" font-size="44.33" fill="#000" stroke="#000" stroke-width="0.7" stroke-linejoin="round">оборудованием</text>
<text transform="translate(1436.6 686.3) translate(-1.10 0) skewX(-15) scale(0.6220 1)" font-size="45.06" fill="#000" stroke="#000" stroke-width="0.7" stroke-linejoin="round">27.6 м</text>
<text transform="translate(1522.5 667.8) translate(-0.46 0) skewX(-15) scale(0.4898 1)" font-size="34.16" fill="#000" stroke="#000" stroke-width="0.8" stroke-linejoin="round">2</text>
<text transform="translate(1111 881.3) translate(-3.21 0) skewX(-15) scale(0.7442 1)" font-size="44.33" fill="#000" stroke="#000" stroke-width="0.7" stroke-linejoin="round">сан.узел</text>
<text transform="translate(1137.7 936.4) translate(-4.87 0) skewX(-15) scale(0.6378 1)" font-size="45.06" fill="#000" stroke="#000" stroke-width="0.7" stroke-linejoin="round">7.5 м</text>
<text transform="translate(1205.9 917.9) translate(-0.46 0) skewX(-15) scale(0.4898 1)" font-size="34.16" fill="#000" stroke="#000" stroke-width="0.8" stroke-linejoin="round">2</text>
<text transform="translate(582.5 878.6) translate(-2.12 0) skewX(-15) scale(0.7893 1)" font-size="43.60" fill="#000" stroke="#000" stroke-width="0.7" stroke-linejoin="round">полотенцесушитель</text>
<text transform="translate(1087.2 1114) translate(-2.06 0) skewX(-15) scale(0.7613 1)" font-size="44.33" fill="#000" stroke="#000" stroke-width="0.7" stroke-linejoin="round">прихожая</text>
<text transform="translate(1121 1167.9) translate(-1.53 0) skewX(-15) scale(0.5435 1)" font-size="45.06" fill="#000" stroke="#000" stroke-width="0.7" stroke-linejoin="round">11.5 м</text>
<text transform="translate(1196.4 1149.4) translate(-0.46 0) skewX(-15) scale(0.4898 1)" font-size="34.16" fill="#000" stroke="#000" stroke-width="0.8" stroke-linejoin="round">2</text>
<text transform="translate(1467.4 1113) translate(-3.09 0) skewX(-15) scale(0.7008 1)" font-size="44.33" fill="#000" stroke="#000" stroke-width="0.7" stroke-linejoin="round">сан.узел</text>
<text transform="translate(1486 1167) translate(-1.13 0) skewX(-15) scale(0.6354 1)" font-size="45.06" fill="#000" stroke="#000" stroke-width="0.7" stroke-linejoin="round">2.2 м</text>
<text transform="translate(1557.7 1148.5) translate(-0.46 0) skewX(-15) scale(0.4898 1)" font-size="34.16" fill="#000" stroke="#000" stroke-width="0.8" stroke-linejoin="round">2</text>
<text transform="translate(1138.6 1456.2) translate(0.14 0) skewX(-15) scale(0.7173 1)" font-size="44.33" fill="#000" stroke="#000" stroke-width="0.7" stroke-linejoin="round">жилая</text>
<text transform="translate(1141.5 1509.5) translate(-1.68 0) skewX(-15) scale(0.5860 1)" font-size="45.06" fill="#000" stroke="#000" stroke-width="0.7" stroke-linejoin="round">12.5 м</text>
<text transform="translate(1222.2 1491) translate(-0.46 0) skewX(-15) scale(0.4898 1)" font-size="34.16" fill="#000" stroke="#000" stroke-width="0.8" stroke-linejoin="round">2</text>
<text transform="translate(1483 1547.5) translate(0.14 0) skewX(-15) scale(0.7165 1)" font-size="44.33" fill="#000" stroke="#000" stroke-width="0.7" stroke-linejoin="round">жилая</text>
<text transform="translate(1486.6 1602) translate(-1.63 0) skewX(-15) scale(0.5715 1)" font-size="45.06" fill="#000" stroke="#000" stroke-width="0.7" stroke-linejoin="round">17.2 м</text>
<text transform="translate(1565.5 1583.5) translate(-0.46 0) skewX(-15) scale(0.4898 1)" font-size="34.16" fill="#000" stroke="#000" stroke-width="0.8" stroke-linejoin="round">2</text>
<text transform="translate(1020 1776.8) translate(0.22 0) skewX(-15) scale(0.6223 1)" font-size="44.33" fill="#000" stroke="#000" stroke-width="0.7" stroke-linejoin="round">люк</text>
<text transform="translate(1110.5 1775) translate(0.20 0) skewX(-15) scale(0.6971 1)" font-size="44.33" fill="#000" stroke="#000" stroke-width="0.7" stroke-linejoin="round">лоджия</text>
<text transform="translate(1093.5 1830.8) translate(-1.19 0) skewX(-15) scale(0.6626 1)" font-size="45.06" fill="#000" stroke="#000" stroke-width="0.7" stroke-linejoin="round">2.7(3.8) м</text>
<text transform="translate(1229.3 1812.3) translate(-0.46 0) skewX(-15) scale(0.4898 1)" font-size="34.16" fill="#000" stroke="#000" stroke-width="0.8" stroke-linejoin="round">2</text>
<text transform="translate(1053 607.7) rotate(-90) translate(-2.45 0) skewX(-15) scale(0.6575 1)" font-size="46.51" fill="#000" stroke="#000" stroke-width="1.1" stroke-linejoin="round">3020</text>
<text transform="translate(1313.7 464.8) rotate(-90) translate(-3.61 0) skewX(-15) scale(0.6735 1)" font-size="46.51" fill="#000" stroke="#000" stroke-width="1.1" stroke-linejoin="round">600</text>
<text transform="translate(1314 601) rotate(-90) translate(-1.44 0) skewX(-15) scale(0.5584 1)" font-size="46.51" fill="#000" stroke="#000" stroke-width="1.1" stroke-linejoin="round">1820</text>
<text transform="translate(1314 732) rotate(-90) translate(-3.61 0) skewX(-15) scale(0.6735 1)" font-size="46.51" fill="#000" stroke="#000" stroke-width="1.1" stroke-linejoin="round">600</text>
<text transform="translate(1314 782.5) rotate(-90) translate(-4.26 0) skewX(-15) scale(0.5706 1)" font-size="46.51" fill="#000" stroke="#000" stroke-width="1.1" stroke-linejoin="round">70</text>
<text transform="translate(1314 913.3) rotate(-90) translate(-0.88 0) skewX(-15) scale(0.5989 1)" font-size="46.51" fill="#000" stroke="#000" stroke-width="1.1" stroke-linejoin="round">2510</text>
<text transform="translate(1658.8 748) rotate(-90) translate(-2.41 0) skewX(-15) scale(0.6661 1)" font-size="46.51" fill="#000" stroke="#000" stroke-width="1.1" stroke-linejoin="round">5600</text>
<text transform="translate(1618 347.5) rotate(-90) translate(-2.31 0) skewX(-15) scale(0.5980 1)" font-size="46.51" fill="#000" stroke="#000" stroke-width="1.1" stroke-linejoin="round">300</text>
<text transform="translate(1053 963) rotate(-90) translate(-1.50 0) skewX(-15) scale(0.5771 1)" font-size="46.51" fill="#000" stroke="#000" stroke-width="1.1" stroke-linejoin="round">1550</text>
<text transform="translate(832.7 980.8) rotate(-90) translate(-1.36 0) skewX(-15) scale(0.5376 1)" font-size="46.51" fill="#000" stroke="#000" stroke-width="1.1" stroke-linejoin="round">140</text>
<text transform="translate(1053 1080.3) rotate(-90) translate(-1.09 0) skewX(-15) scale(0.4607 1)" font-size="46.51" fill="#000" stroke="#000" stroke-width="1.1" stroke-linejoin="round">120</text>
<text transform="translate(1053 1160.4) rotate(-90) translate(-1.40 0) skewX(-15) scale(0.5469 1)" font-size="46.51" fill="#000" stroke="#000" stroke-width="1.1" stroke-linejoin="round">1880</text>
<text transform="translate(833 1160.4) rotate(-90) translate(-1.40 0) skewX(-15) scale(0.5469 1)" font-size="46.51" fill="#000" stroke="#000" stroke-width="1.1" stroke-linejoin="round">1860</text>
<text transform="translate(833 1323.2) rotate(-90) translate(-1.36 0) skewX(-15) scale(0.5376 1)" font-size="46.51" fill="#000" stroke="#000" stroke-width="1.1" stroke-linejoin="round">140</text>
<text transform="translate(1053 1299) rotate(-90) translate(-1.18 0) skewX(-15) scale(0.4864 1)" font-size="46.51" fill="#000" stroke="#000" stroke-width="1.1" stroke-linejoin="round">120</text>
<text transform="translate(1161.9 1305.5) rotate(-90) translate(-3.54 0) skewX(-15) scale(0.6537 1)" font-size="46.51" fill="#000" stroke="#000" stroke-width="1.1" stroke-linejoin="round">600</text>
<text transform="translate(1658.8 998.6) rotate(-90) translate(-1.18 0) skewX(-15) scale(0.4864 1)" font-size="46.51" fill="#000" stroke="#000" stroke-width="1.1" stroke-linejoin="round">120</text>
<text transform="translate(1660 1160) rotate(-90) translate(-1.37 0) skewX(-15) scale(0.5407 1)" font-size="46.51" fill="#000" stroke="#000" stroke-width="1.1" stroke-linejoin="round">1880</text>
<text transform="translate(1660 1298.6) rotate(-90) translate(-1.22 0) skewX(-15) scale(0.4978 1)" font-size="46.51" fill="#000" stroke="#000" stroke-width="1.1" stroke-linejoin="round">120</text>
<text transform="translate(1053.3 1503.8) rotate(-90) translate(-2.20 0) skewX(-15) scale(0.6689 1)" font-size="46.51" fill="#000" stroke="#000" stroke-width="1.1" stroke-linejoin="round">4050</text>
<text transform="translate(1659 1586.6) rotate(-90) translate(-2.39 0) skewX(-15) scale(0.6569 1)" font-size="46.51" fill="#000" stroke="#000" stroke-width="1.1" stroke-linejoin="round">5600</text>
<text transform="translate(953 1823) rotate(-90) translate(-1.50 0) skewX(-15) scale(0.5771 1)" font-size="46.51" fill="#000" stroke="#000" stroke-width="1.1" stroke-linejoin="round">1330</text>
<text transform="translate(1702 1971) rotate(-90) translate(-2.40 0) skewX(-15) scale(0.6357 1)" font-size="46.51" fill="#000" stroke="#000" stroke-width="1.1" stroke-linejoin="round">300</text>
<clipPath id="cl1"><rect x="430" y="1936" width="460" height="12.2"/></clipPath>
<g clip-path="url(#cl1)">
<text transform="translate(440 1970.5) translate(-1.25 0) skewX(-15) scale(0.6272 1)" font-size="46.51" fill="#000" stroke="#000" stroke-width="0.8" stroke-linejoin="round">УСЛОВНЫЕ  ОБОЗНАЧЕНИЯ</text>
</g>
<clipPath id="cl2"><rect x="600" y="1985" width="420" height="27"/></clipPath>
<g clip-path="url(#cl2)">
<text transform="translate(664.5 2021.5) translate(-1.97 0) skewX(-15) scale(0.7295 1)" font-size="44.33" fill="#000" stroke="#000" stroke-width="0.7" stroke-linejoin="round">граница  помещений</text>
</g>
<line x1="631" y1="2011.3" x2="645" y2="2011.3" stroke="#000" stroke-width="2" stroke-linecap="butt"/>
<line x1="984.7" y1="1991" x2="984.7" y2="2012" stroke="#555" stroke-width="1" stroke-linecap="butt" stroke-dasharray="2 2"/>
<line x1="449" y1="2015.5" x2="486.6" y2="2015.5" stroke="#9a9a9a" stroke-width="1.2" stroke-linecap="butt"/>
<line x1="503" y1="2015.5" x2="546" y2="2015.5" stroke="#9a9a9a" stroke-width="1.2" stroke-linecap="butt"/>
<line x1="563.7" y1="2015.5" x2="600" y2="2015.5" stroke="#9a9a9a" stroke-width="1.2" stroke-linecap="butt"/>
<text transform="translate(442 2184) translate(-0.86 0) skewX(-15) scale(0.3946 1)" font-size="46.51" fill="#000" stroke="#000" stroke-width="1.1" stroke-linejoin="round">1.</text>
<text transform="translate(537.3 2184) translate(-2.43 0) skewX(-15) scale(0.7587 1)" font-size="45.06" fill="#000" stroke="#000" stroke-width="0.7" stroke-linejoin="round">Кухня  оборудована  электрической  плитой.</text>
<text transform="translate(439.5 2240.2) translate(-0.94 0) skewX(-15) scale(0.6264 1)" font-size="46.51" fill="#000" stroke="#000" stroke-width="1.1" stroke-linejoin="round">2.</text>
<text transform="translate(537.3 2240.2) translate(-2.34 0) skewX(-15) scale(0.7345 1)" font-size="45.06" fill="#000" stroke="#000" stroke-width="0.7" stroke-linejoin="round">План  демонтируемых  и  возводимых  конструкций  (монтажный)  см.л.7.</text>
<rect x="435.6" y="2293.6" width="1735.7" height="228.6" fill="none" stroke="#ff0000" stroke-width="2.2"/>
<text transform="translate(485.8 2362.8) translate(-2.43 0) skewX(-15) scale(0.7693 1)" font-size="44.33" fill="#ff0000" stroke="#ff0000" stroke-width="0.7" stroke-linejoin="round">В  связи  с  затрагиванием  несущих  конструкций  проектная  документация  подлежит  прохождению</text>
<text transform="translate(485.8 2417.2) translate(-3.28 0) skewX(-15) scale(0.7686 1)" font-size="44.33" fill="#ff0000" stroke="#ff0000" stroke-width="0.7" stroke-linejoin="round">обязательной  государственной  экспертизы  в  соответствии  с  Постановлением  Совета  Министров</text>
<text transform="translate(485.8 2472) translate(-2.30 0) skewX(-15) scale(0.7322 1)" font-size="44.33" fill="#ff0000" stroke="#ff0000" stroke-width="0.7" stroke-linejoin="round">Республики  Беларусь  №791  от  30.09.2016г.</text>
</g>
<g id="block">
<line x1="350" y1="2610.3" x2="2360" y2="2610.3" stroke="#000" stroke-width="9" stroke-linecap="butt"/>
<line x1="567.5" y1="2610" x2="567.5" y2="3207" stroke="#000" stroke-width="8.6" stroke-linecap="butt"/>
<line x1="785.3" y1="2610" x2="785.3" y2="3207" stroke="#000" stroke-width="8.6" stroke-linecap="butt"/>
<line x1="947.5" y1="2610" x2="947.5" y2="3207" stroke="#000" stroke-width="8.6" stroke-linecap="butt"/>
<line x1="1056.8" y1="2610" x2="1056.8" y2="3207" stroke="#000" stroke-width="8.6" stroke-linecap="butt"/>
<line x1="455.2" y1="2610" x2="455.2" y2="2882" stroke="#000" stroke-width="5.7" stroke-linecap="butt"/>
<line x1="672.1" y1="2610" x2="672.1" y2="2882" stroke="#000" stroke-width="5.7" stroke-linecap="butt"/>
<line x1="350" y1="2665.4" x2="1057" y2="2665.4" stroke="#000" stroke-width="2.9" stroke-linecap="butt"/>
<line x1="350" y1="2719.4" x2="1057" y2="2719.4" stroke="#000" stroke-width="2.9" stroke-linecap="butt"/>
<line x1="350" y1="2773.4" x2="1057" y2="2773.4" stroke="#000" stroke-width="2.9" stroke-linecap="butt"/>
<line x1="350" y1="2936.4" x2="1057" y2="2936.4" stroke="#000" stroke-width="2.9" stroke-linecap="butt"/>
<line x1="350" y1="2991.5" x2="1057" y2="2991.5" stroke="#000" stroke-width="2.9" stroke-linecap="butt"/>
<line x1="350" y1="3045.5" x2="1057" y2="3045.5" stroke="#000" stroke-width="2.9" stroke-linecap="butt"/>
<line x1="350" y1="3100" x2="1057" y2="3100" stroke="#000" stroke-width="2.9" stroke-linecap="butt"/>
<line x1="350" y1="3153.2" x2="1057" y2="3153.2" stroke="#000" stroke-width="2.9" stroke-linecap="butt"/>
<line x1="350" y1="2827.9" x2="1057" y2="2827.9" stroke="#000" stroke-width="6.4" stroke-linecap="butt"/>
<line x1="350" y1="2881.7" x2="1057" y2="2881.7" stroke="#000" stroke-width="6.4" stroke-linecap="butt"/>
<line x1="1057" y1="2719.1" x2="2360" y2="2719.1" stroke="#000" stroke-width="8.6" stroke-linecap="butt"/>
<line x1="1057" y1="2881.9" x2="2360" y2="2881.9" stroke="#000" stroke-width="8.6" stroke-linecap="butt"/>
<line x1="1057" y1="3044.4" x2="2360" y2="3044.4" stroke="#000" stroke-width="8.6" stroke-linecap="butt"/>
<line x1="1816.6" y1="2882" x2="1816.6" y2="3207" stroke="#000" stroke-width="8.6" stroke-linecap="butt"/>
<line x1="1979" y1="2882" x2="1979" y2="3044.4" stroke="#000" stroke-width="8.6" stroke-linecap="butt"/>
<line x1="2141.5" y1="2882" x2="2141.5" y2="3044.4" stroke="#000" stroke-width="8.6" stroke-linecap="butt"/>
<line x1="1816.6" y1="2936" x2="2360" y2="2936" stroke="#000" stroke-width="8.6" stroke-linecap="butt"/>
<text transform="translate(369.1 2873.9) translate(-2.23 0) skewX(-15) scale(0.6735 1)" font-size="47.24" fill="#000" stroke="#000" stroke-width="0.8" stroke-linejoin="round">Изм.</text>
<text transform="translate(465.8 2873.9) translate(-1.89 0) skewX(-15) scale(0.5844 1)" font-size="47.24" fill="#000" stroke="#000" stroke-width="0.8" stroke-linejoin="round">Кол.уч.</text>
<text transform="translate(577.8 2872) translate(0.06 0) skewX(-15) scale(0.6832 1)" font-size="47.24" fill="#000" stroke="#000" stroke-width="0.8" stroke-linejoin="round">Лист</text>
<text transform="translate(685.6 2872) translate(-2.24 0) skewX(-15) scale(0.6758 1)" font-size="47.24" fill="#000" stroke="#000" stroke-width="0.8" stroke-linejoin="round">Nдок.</text>
<text transform="translate(815.4 2872) translate(-2.16 0) skewX(-15) scale(0.6555 1)" font-size="47.24" fill="#000" stroke="#000" stroke-width="0.8" stroke-linejoin="round">Подп.</text>
<text transform="translate(956.4 2872) translate(2.67 0) skewX(-15) scale(0.7580 1)" font-size="47.24" fill="#000" stroke="#000" stroke-width="0.8" stroke-linejoin="round">Дата</text>
<text transform="translate(369 2982.8) translate(-1.94 0) skewX(-15) scale(0.5902 1)" font-size="47.97" fill="#000" stroke="#000" stroke-width="0.8" stroke-linejoin="round">ГИП</text>
<text transform="translate(577 2980.9) translate(-2.17 0) skewX(-15) scale(0.6517 1)" font-size="47.67" fill="#000" stroke="#000" stroke-width="0.8" stroke-linejoin="round">Бирюк</text>
<text transform="translate(958.9 2980.8) translate(-3.25 0) skewX(-15) scale(0.6036 1)" font-size="49.13" fill="#000" stroke="#000" stroke-width="1.2" stroke-linejoin="round">08.21</text>
<text transform="translate(369 3037.8) translate(-2.41 0) skewX(-15) scale(0.7110 1)" font-size="47.97" fill="#000" stroke="#000" stroke-width="0.8" stroke-linejoin="round">Разраб.</text>
<text transform="translate(577 3035.8) translate(-2.33 0) skewX(-15) scale(0.6921 1)" font-size="47.97" fill="#000" stroke="#000" stroke-width="0.8" stroke-linejoin="round">Винникова</text>
<text transform="translate(958.9 3034.9) translate(-3.25 0) skewX(-15) scale(0.6036 1)" font-size="49.13" fill="#000" stroke="#000" stroke-width="1.2" stroke-linejoin="round">08.21</text>
<text transform="translate(368.1 3195.4) translate(-2.46 0) skewX(-15) scale(0.7250 1)" font-size="47.97" fill="#000" stroke="#000" stroke-width="0.8" stroke-linejoin="round">Н.контр.</text>
<text transform="translate(577.1 3198) translate(-2.38 0) skewX(-15) scale(0.7087 1)" font-size="47.67" fill="#000" stroke="#000" stroke-width="0.8" stroke-linejoin="round">Кухмар</text>
<text transform="translate(958.9 3197.7) translate(-3.24 0) skewX(-15) scale(0.6097 1)" font-size="48.69" fill="#000" stroke="#000" stroke-width="1.2" stroke-linejoin="round">08.21</text>
<text transform="translate(264 2537.2) rotate(-90) translate(-2.21 0) skewX(-15) scale(0.6511 1)" font-size="48.69" fill="#000" stroke="#000" stroke-width="0.8" stroke-linejoin="round">Взам.инв.N</text>
<text transform="translate(264 2898.6) rotate(-90) translate(-2.29 0) skewX(-15) scale(0.6708 1)" font-size="48.69" fill="#000" stroke="#000" stroke-width="0.8" stroke-linejoin="round">Подп.  и  дата</text>
<text transform="translate(264 3186.5) rotate(-90) translate(-2.23 0) skewX(-15) scale(0.6556 1)" font-size="48.69" fill="#000" stroke="#000" stroke-width="0.8" stroke-linejoin="round">Инв.N  подл.</text>
<text transform="translate(1140.2 2754.6) translate(-2.33 0) skewX(-15) scale(0.7424 1)" font-size="44.33" fill="#000" stroke="#000" stroke-width="0.7" stroke-linejoin="round">Перепланировка  изолированного  помещения  с  инвентарным  номером</text>
<text transform="translate(1082.7 2807) translate(0.66 0) skewX(-15) scale(0.7415 1)" font-size="44.33" fill="#000" stroke="#000" stroke-width="0.7" stroke-linejoin="round">расположенного  по  адресу:  Минская  область,  Минский  район,  Боровлянский</text>
<text transform="translate(1400.2 2861.6) translate(-3.24 0) skewX(-15) scale(0.7531 1)" font-size="44.33" fill="#000" stroke="#000" stroke-width="0.7" stroke-linejoin="round">с/с,  д.  Копище,  ул.  Братьев  Райт,  14</text>
<text transform="translate(1353 2975) translate(-2.54 0) skewX(-15) scale(0.7666 1)" font-size="46.51" fill="#000" stroke="#000" stroke-width="0.8" stroke-linejoin="round">Квартира</text>
<text transform="translate(1841 2923.5) translate(-4.52 0) skewX(-15) scale(0.7257 1)" font-size="46.51" fill="#000" stroke="#000" stroke-width="0.8" stroke-linejoin="round">Стадия</text>
<text transform="translate(2022.8 2923.5) translate(0.05 0) skewX(-15) scale(0.6890 1)" font-size="46.51" fill="#000" stroke="#000" stroke-width="0.8" stroke-linejoin="round">Лист</text>
<text transform="translate(2210.8 2923.5) translate(0.04 0) skewX(-15) scale(0.7210 1)" font-size="46.51" fill="#000" stroke="#000" stroke-width="0.8" stroke-linejoin="round">Листов</text>
<text transform="translate(1880 3008.8) translate(-4.62 0) skewX(-15) scale(0.4496 1)" font-size="62.50" fill="#000" stroke="#000" stroke-width="1" stroke-linejoin="round">С</text>
<text transform="translate(2043 3008.8) translate(-3.35 0) skewX(-15) scale(0.6388 1)" font-size="62.50" fill="#000" stroke="#000" stroke-width="1.5" stroke-linejoin="round">8</text>
<text transform="translate(1124.9 3130.6) translate(-2.39 0) skewX(-15) scale(0.7568 1)" font-size="44.33" fill="#000" stroke="#000" stroke-width="0.7" stroke-linejoin="round">План  квартиры  после  перепланировки</text>
<path d="M788.7 2970.7 L841.1 2953.3 L912.2 2940 L974.4 2932 L992.1 2930.6" fill="none" stroke="#000" stroke-width="3.9" stroke-linejoin="round" stroke-linecap="round"/>
<path d="M974.4 2933.1 L992.1 2931.3" fill="none" stroke="#000" stroke-width="3.5" stroke-linejoin="round" stroke-linecap="round"/>
<path d="M789.5 2976.1 L844.6 2962.6 L922.8 2951.9 L930.8 2953.3 L929.9 2956.5 L892.6 2967.5 L869.5 2974.6 L853.5 2980.9 L846.4 2983.5" fill="none" stroke="#000" stroke-width="3.7" stroke-linejoin="round" stroke-linecap="round"/>
<path d="M796.7 2971.1 L858.9 2958.6 L919.3 2953.3" fill="none" stroke="#000" stroke-width="3.1" stroke-linejoin="round" stroke-linecap="round"/>
<path d="M847.3 2964.3 L841.1 2978.2 L831.8 2992.4" fill="none" stroke="#000" stroke-width="4.5" stroke-linejoin="round" stroke-linecap="round"/>
<path d="M803.1 3043.2 L823.3 3017.3 L836.8 2998.1" fill="none" stroke="#000" stroke-width="3.9" stroke-linejoin="round" stroke-linecap="round"/>
<path d="M823.3 3011.6 L832.2 3006.6 L835.4 3013.7 L830.1 3022.6 L838.4 3022.6 L842 3029.7 L837.5 3037.7 L823.3 3042.5 L820.1 3038.6 L828.6 3033.3 L841.1 3037.7 L850 3032.4 L855.3 3035.4 L864.2 3031.2 L869.5 3034.4 L878.4 3030.6 L883.7 3033.6 L894.4 3030.6 L899.7 3032.9 L910.4 3030.6" fill="none" stroke="#000" stroke-width="3.3" stroke-linejoin="round" stroke-linecap="round"/>
<path d="M933.7 2988 L922.8 3015.5 L908.6 3038.6 L894.4 3056.7" fill="none" stroke="#000" stroke-width="4.1" stroke-linejoin="round" stroke-linecap="round"/>
<path d="M825.1 3203.2 L855.3 3170.1 L880.2 3136" fill="none" stroke="#000" stroke-width="4.3" stroke-linejoin="round" stroke-linecap="round"/>
<path d="M878.4 3138.1 L862.4 3166.6 L850 3191.5 L846.8 3212.4" fill="none" stroke="#000" stroke-width="4.1" stroke-linejoin="round" stroke-linecap="round"/>
<path d="M852.1 3200.7 L858.9 3195 L864.2 3196.4 L871.3 3189.7 L876.6 3191.5 L884.1 3184.3" fill="none" stroke="#000" stroke-width="3.3" stroke-linejoin="round" stroke-linecap="round"/>
<path d="M916.8 3132.1 L906.8 3157.7 L894.4 3177.2 L885.5 3191.5 L881.1 3202.1" fill="none" stroke="#000" stroke-width="4.1" stroke-linejoin="round" stroke-linecap="round"/>
<polygon points="2027.2,3069.1 2042.4,3069.1 2042.4,3133 2052.8,3133 2046.2,3145.3 2042.4,3145.3 2042.4,3156.7 2028.7,3156.7 2028.7,3145.3 1992.1,3145.3" fill="#ff7f00"/>
<polygon points="2028.7,3100.8 2028.7,3133 2013,3133" fill="#fff"/>
<polygon points="1986.4,3152.9 2003.5,3152.9 1989.3,3185.1 1971.3,3185.1" fill="#000"/>
<path d="M2016.8 3079 Q1972.2 3084.6 1971.3 3122.6 Q1971.3 3141.5 1978.9 3156.3 L1985.1 3144.4 Q1980.8 3124.5 1985.5 3113.1 Q1995 3094.1 2011.1 3089.4 Z" fill="#ff7f00"/>
<path d="M2004.1 3167.1 Q2029.1 3173.7 2060.4 3163.9 Q2034.8 3185.1 2005.4 3177.9 L2000.3 3175.3 Z" fill="#ff7f00"/>
<polygon points="2066.2,3112.8 2091.7,3112.8 2079.6,3158.7 2067.9,3158.7 2077,3124.3 2075,3124.3 2065.9,3158.7 2054.1,3158.7" fill="#000" stroke="#000" stroke-width="0.9" stroke-linejoin="round"/>
<polygon points="2095.7,3112.8 2115,3112.8 2118.6,3117.8 2114,3135.5 2107.7,3140.4 2100.5,3140.4 2095.6,3158.7 2083.5,3158.7" fill="#000" stroke="#000" stroke-width="0.9" stroke-linejoin="round"/>
<polygon points="2102.9,3124.5 2105.3,3124.5 2103.9,3129.6 2101.6,3129.6" fill="#fff" stroke="#fff" stroke-width="0.2" stroke-linejoin="round"/>
<polygon points="2124.7,3112.8 2149.8,3112.8 2137.7,3158.7 2112.5,3158.7" fill="#000" stroke="#000" stroke-width="0.9" stroke-linejoin="round"/>
<polygon points="2134.7,3124.5 2137.5,3124.5 2131.2,3148.3 2128.4,3148.3" fill="#fff" stroke="#fff" stroke-width="0.2" stroke-linejoin="round"/>
<polygon points="2153.9,3112.8 2179.1,3112.8 2176,3124.3 2162.6,3124.3 2161.1,3129.9 2174.8,3129.9 2171.8,3141.1 2157.3,3141.1 2155.5,3147.9 2171,3147.9 2168.1,3158.7 2141.8,3158.7" fill="#000" stroke="#000" stroke-width="0.9" stroke-linejoin="round"/>
<polygon points="2183,3112.8 2194.2,3112.8 2190.5,3126.7 2200.2,3112.8 2209.2,3112.8 2207.3,3119.9 2195.3,3136.1 2200.4,3149.8 2198,3158.7 2186.8,3158.7 2187.6,3147.3 2182.8,3158.7 2170.9,3158.7" fill="#000" stroke="#000" stroke-width="0.9" stroke-linejoin="round"/>
<polygon points="2212.3,3112.8 2236.5,3112.8 2233.7,3123.6 2227.2,3123.6 2217.9,3158.7 2206.7,3158.7 2216,3123.6 2209.4,3123.6" fill="#000" stroke="#000" stroke-width="0.9" stroke-linejoin="round"/>
</g>
</g>
</svg>
</body></html>
